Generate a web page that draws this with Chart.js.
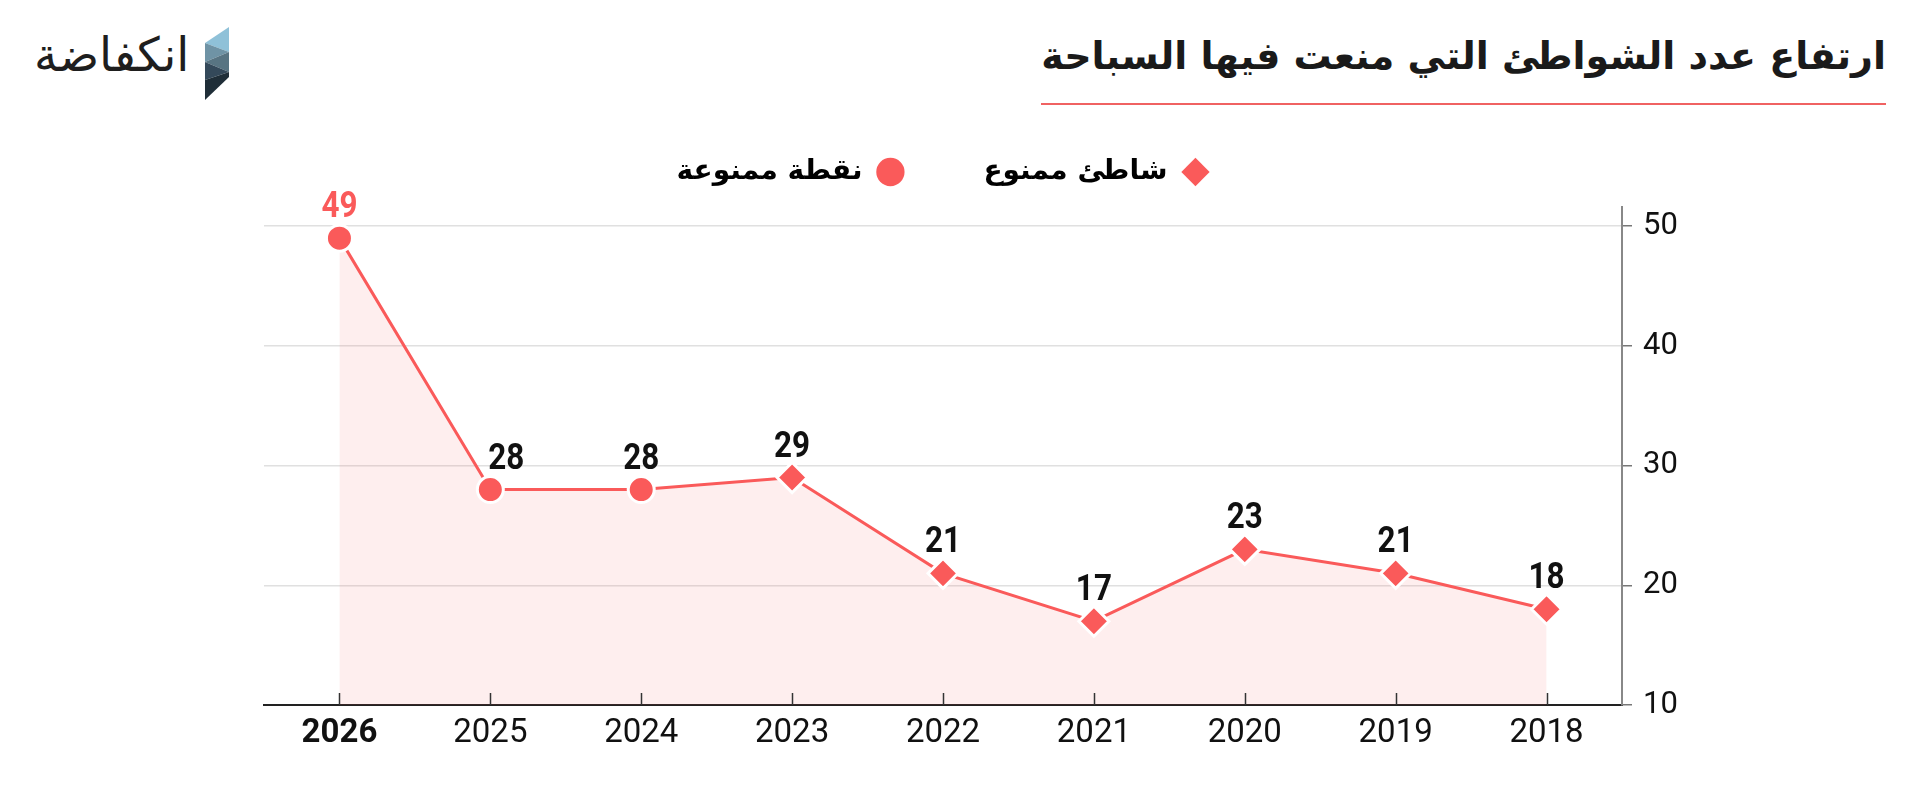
<!DOCTYPE html>
<html lang="ar">
<head>
<meta charset="utf-8">
<title>ارتفاع عدد الشواطئ التي منعت فيها السباحة</title>
<script src="https://cdn.jsdelivr.net/npm/chart.js@4.4.1/dist/chart.umd.min.js"></script>
<style>
  html, body { margin: 0; padding: 0; background: #fff; }
  body { width: 1920px; height: 800px; position: relative; overflow: hidden; }
  #wrap { position: absolute; left: 0; top: 0; width: 1920px; height: 800px; }
  h1 {
    position: absolute; right: 34px; top: 37px; margin: 0;
    font: bold 38px/38px "DejaVu Sans", sans-serif; color: #1a1a1a;
    direction: rtl; white-space: nowrap;
  }
  .rule { position: absolute; left: 1041px; top: 103px; width: 845px; height: 2px; background: #f06262; }
  .brand {
    position: absolute; left: 34px; top: 30px;
    font: 47px/50px "DejaVu Sans", sans-serif; color: #1e1e1e;
    direction: rtl; white-space: nowrap;
  }
  .mark { position: absolute; left: 0; top: 0; }
</style>
</head>
<body>
<h1>ارتفاع عدد الشواطئ التي منعت فيها السباحة</h1>
<div class="rule"></div>
<div class="brand">انكفاضة</div>
<svg class="mark" width="260" height="110">
  <polygon points="229,27 229,52 205,43" fill="#8fc1d8"/>
  <polygon points="205,43 229,52 205,62" fill="#6f93a5"/>
  <polygon points="229,52 229,72 205,62" fill="#587482"/>
  <polygon points="205,62 229,72 205,80" fill="#34495a"/>
  <polygon points="229,72 229,77 205,100 205,80" fill="#1f2e38"/>
</svg>
<div id="wrap"><canvas id="myChart" width="1920" height="800"></canvas></div>
<script>
  // data
  const years = ["2026", "2025", "2024", "2023", "2022", "2021", "2020", "2019", "2018"];
  const counts = [49, 28, 28, 29, 21, 17, 23, 21, 18];
  const kinds = ["نقطة ممنوعة", "نقطة ممنوعة", "نقطة ممنوعة",
                 "شاطئ ممنوع", "شاطئ ممنوع", "شاطئ ممنوع", "شاطئ ممنوع", "شاطئ ممنوع", "شاطئ ممنوع"];
  const legendOrder = ["شاطئ ممنوع", "نقطة ممنوعة"];
  const yTicks = [10, 20, 30, 40, 50];

  const RED = "#fa5a5a";
  const NUM_FONT = 'Roboto, "Liberation Sans", sans-serif';
  const styleOf = { "نقطة ممنوعة": "circle", "شاطئ ممنوع": "rectRot" };

  // value labels above each point (drawn a bit narrower, like a condensed face)
  const valueLabels = {
    id: "valueLabels",
    afterDatasetsDraw(chart, args, opts) {
      const ctx = chart.ctx;
      const meta = chart.getDatasetMeta(0);
      meta.data.forEach(function(pt, i) {
        const dx = (opts.shift && opts.shift[i]) || 0;
        ctx.save();
        ctx.translate(pt.x + dx, pt.y - 21);
        ctx.scale(0.85, 1);
        ctx.font = "bold 37px " + NUM_FONT;
        ctx.textAlign = "center";
        ctx.textBaseline = "alphabetic";
        ctx.fillStyle = i === 0 ? RED : "#111";
        ctx.fillText(String(counts[i]), 0, 0);
        ctx.restore();
      });
    }
  };

  // small ticks pointing up into the plot on the x axis
  const innerTicks = {
    id: "innerTicks",
    afterDraw(chart) {
      const x = chart.scales.x;
      const ctx = chart.ctx;
      ctx.save();
      ctx.strokeStyle = "#333";
      ctx.lineWidth = 1.5;
      x.ticks.forEach(function(t, i) {
        const px = Math.round(x.getPixelForTick(i)) + 0.5;
        ctx.beginPath();
        ctx.moveTo(px, x.top);
        ctx.lineTo(px, x.top - 12);
        ctx.stroke();
      });
      ctx.restore();
    }
  };

  const data = {
    labels: years,
    datasets: [{
      label: "عدد",
      data: counts,
      borderColor: RED,
      borderWidth: 3,
      backgroundColor: "rgba(245, 90, 90, 0.1)",
      fill: "start",
      tension: 0,
      pointStyle: kinds.map(k => styleOf[k]),
      pointRadius: kinds.map(k => styleOf[k] === "circle" ? 13 : 15),
      pointBackgroundColor: RED,
      pointBorderColor: "#fff",
      pointBorderWidth: 3
    }]
  };

  const config = {
    type: "line",
    data: data,
    plugins: [valueLabels, innerTicks],
    options: {
      responsive: false,
      animation: false,
      events: [],
      layout: { padding: { left: 264, right: 198, top: 79, bottom: 0 } },
      plugins: {
        tooltip: { enabled: false },
        valueLabels: { shift: { 1: 16 } },
        legend: {
          position: "top",
          fullSize: false,
          rtl: true,
          textDirection: "rtl",
          labels: {
            usePointStyle: true,
            boxHeight: 20,
            padding: 79,
            color: "#1a1a1a",
            font: { family: '"DejaVu Sans", sans-serif', size: 28, weight: "bold" },
            generateLabels: () => legendOrder.map(k => ({
              text: k, pointStyle: styleOf[k], fillStyle: RED, strokeStyle: RED, lineWidth: 0, hidden: false
            }))
          }
        }
      },
      scales: {
        x: {
          offset: true,
          afterFit(s) { s.height = 95; },
          grid: { drawOnChartArea: false, drawTicks: false },
          border: { color: "#222", width: 2 },
          ticks: {
            padding: 9,
            color: "#111",
            font: ctx => ({ family: NUM_FONT, size: 33, weight: ctx.index === 0 ? "bold" : "normal" })
          }
        },
        // empty spacer between legend and plot
        gap: {
          type: "category",
          position: "top",
          afterFit(s) { s.height = 11; },
          ticks: { display: false },
          grid: { display: false },
          border: { display: false }
        },
        y: {
          position: "right",
          min: 10,
          max: 51.6,
          afterFit(s) { s.width = 100; },
          afterBuildTicks(s) { s.ticks = yTicks.map(v => ({ value: v })); },
          ticks: { padding: 11, color: "#111", font: { family: NUM_FONT, size: 31 } },
          grid: { color: "#e0e0e0", lineWidth: 1.5, tickColor: "#777", tickLength: 10 },
          border: { color: "#888", width: 2 }
        }
      }
    }
  };

  var myChart = new Chart(document.getElementById("myChart"), config);
</script>
</body>
</html>
